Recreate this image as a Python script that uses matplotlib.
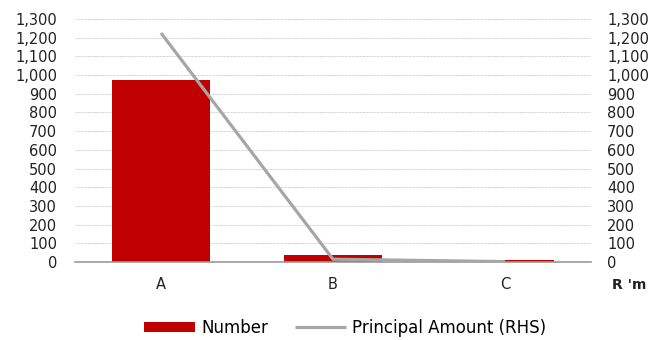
import matplotlib.pyplot as plt
import numpy as np

categories = ['A', 'B', 'C']
number = [975, 37, 13]
principal = [1225, 15, 2]
ticks = list(range(0, 1301, 100))

plt.rcParams['font.family'] = ['DejaVu Sans']

fig = plt.figure(figsize=(6.65, 3.4), dpi=100)
ax = fig.add_axes([75 / 665, 1 - 262 / 340, 516 / 665, 243 / 340])
ax2 = ax.twinx()

x = np.arange(len(categories))
ax.bar(x, number, width=0.57, color='#C00000', label='Number', zorder=2)
ax2.plot(x, principal, color='#A6A6A6', lw=2.3, label='Principal Amount (RHS)',
         solid_capstyle='butt', zorder=3)

for a in (ax, ax2):
    a.set_ylim(0, 1300)
    a.set_yticks(ticks)
    a.set_yticklabels([f'{t:,}' for t in ticks], fontsize=10.5, color='#222222')
    a.tick_params(length=0)
    for s in a.spines.values():
        s.set_visible(False)
ax.tick_params(axis='y', pad=13)
ax2.tick_params(axis='y', pad=11.5)

ax.set_xlim(-0.5, 2.5)
ax.set_xticks(x)
ax.set_xticklabels(categories, fontsize=10.5, color='#222222')
ax.tick_params(axis='x', pad=11)
ax.yaxis.grid(True, color='#AAAAAA', ls=(0, (1, 1)), lw=0.5)
ax.set_axisbelow(True)
ax.spines['bottom'].set_visible(True)
ax.spines['bottom'].set_color('#999999')
ax.spines['bottom'].set_linewidth(1.2)
ax2.set_zorder(ax.get_zorder() + 1)
ax2.patch.set_visible(False)

fig.text(612 / 665, 1 - 285 / 340, "R 'm", fontsize=10, fontweight='bold',
         ha='left', va='center', color='#222222')

h1, l1 = ax.get_legend_handles_labels()
h2, l2 = ax2.get_legend_handles_labels()
fig.legend(h1 + h2, l1 + l2, loc='center', bbox_to_anchor=(345 / 665, 1 - 328 / 340),
           ncol=2, frameon=False, fontsize=12, handlelength=3.05,
           handleheight=0.6, columnspacing=1.6, handletextpad=0.36)

fig.savefig('out.png', dpi=100)
